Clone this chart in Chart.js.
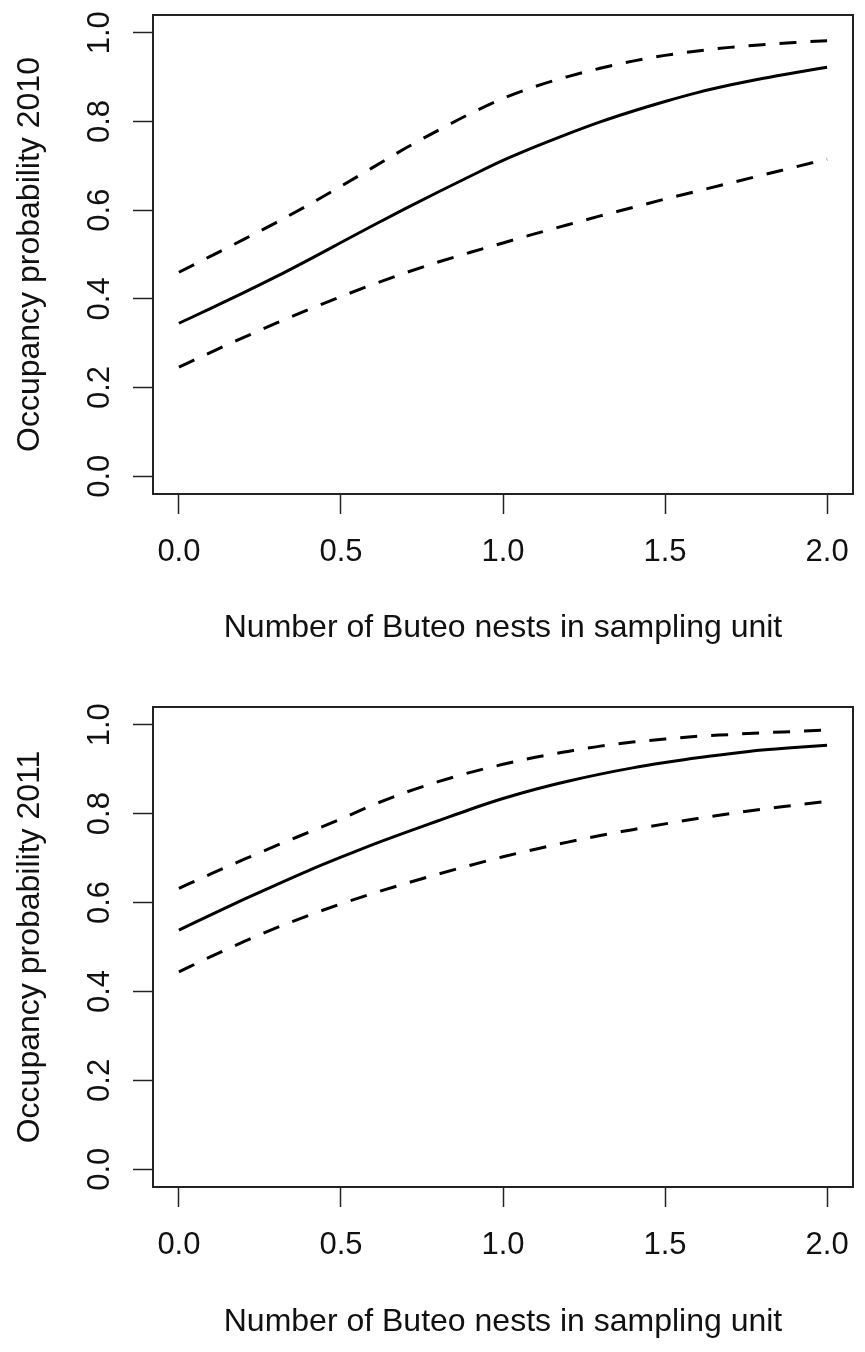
<!DOCTYPE html>
<html>
<head>
<meta charset="utf-8">
<script src="https://cdn.jsdelivr.net/npm/chart.js@4.4.1/dist/chart.umd.min.js"></script>
<style>
html, body { margin: 0; padding: 0; background: #fff; }
#wrap { position: relative; width: 865px; height: 1352px; }
canvas { position: absolute; left: 0; }
</style>
</head>
<body>
<div id="wrap">
  <canvas id="c2010" width="865" height="692" style="top:0px"></canvas>
  <canvas id="c2011" width="865" height="660" style="top:692px"></canvas>
</div>
<script>
// number of Buteo nests (x values shared by both panels)
const nests = [0, 0.1, 0.2, 0.3, 0.4, 0.5, 0.6, 0.7, 0.8, 0.9, 1.0,
               1.1, 1.2, 1.3, 1.4, 1.5, 1.6, 1.7, 1.8, 1.9, 2.0];

// 2010: fitted occupancy and its upper / lower bounds
const fit2010   = [0.345, 0.379, 0.414, 0.450, 0.488, 0.527, 0.566, 0.604, 0.641, 0.677, 0.712,
                   0.743, 0.772, 0.799, 0.823, 0.845, 0.865, 0.882, 0.897, 0.910, 0.922];
const upper2010 = [0.460, 0.497, 0.534, 0.572, 0.612, 0.654, 0.697, 0.740, 0.780, 0.818, 0.852,
                   0.879, 0.901, 0.920, 0.936, 0.949, 0.959, 0.967, 0.973, 0.978, 0.982];
const lower2010 = [0.246, 0.280, 0.313, 0.345, 0.376, 0.405, 0.433, 0.459, 0.483, 0.505, 0.526,
                   0.547, 0.567, 0.587, 0.606, 0.625, 0.643, 0.661, 0.679, 0.697, 0.715];

// 2011
const fit2011   = [0.538, 0.573, 0.607, 0.640, 0.672, 0.702, 0.731, 0.758, 0.784, 0.810, 0.834,
                   0.855, 0.873, 0.889, 0.903, 0.915, 0.926, 0.935, 0.943, 0.949, 0.954];
const upper2011 = [0.632, 0.665, 0.697, 0.728, 0.758, 0.788, 0.820, 0.848, 0.872, 0.893, 0.911,
                   0.927, 0.940, 0.952, 0.961, 0.968, 0.974, 0.978, 0.982, 0.985, 0.988];
const lower2011 = [0.444, 0.479, 0.512, 0.543, 0.571, 0.597, 0.621, 0.643, 0.664, 0.684, 0.703,
                   0.720, 0.736, 0.751, 0.764, 0.777, 0.789, 0.800, 0.810, 0.819, 0.828];

const xTicks = [0, 0.5, 1.0, 1.5, 2.0];
const yTicks = [0, 0.2, 0.4, 0.6, 0.8, 1.0];
const xTitle = 'Number of Buteo nests in sampling unit';

const fontFamily = '"Liberation Sans", Arial, sans-serif';
const ink = '#111';

// R-style closed box round the plot region
const boxPlugin = {
  id: 'rbox',
  afterDatasetsDraw(chart) {
    const a = chart.chartArea;
    const ctx = chart.ctx;
    ctx.save();
    ctx.strokeStyle = '#222';
    ctx.lineWidth = 2;
    ctx.strokeRect(a.left, a.top, a.right - a.left, a.bottom - a.top);
    ctx.restore();
  }
};

function series(ys, dashed) {
  return {
    data: nests.map((x, i) => ({ x: x, y: ys[i] })),
    borderColor: '#000',
    borderWidth: 3,
    borderDash: dashed ? [17, 14] : [],
    pointRadius: 0,
    fill: false,
    cubicInterpolationMode: 'monotone'
  };
}

function makePanel(id, yTitle, fit, upper, lower, axisHeight, xTitlePad) {
  return new Chart(document.getElementById(id), {
    type: 'line',
    data: { datasets: [series(fit, false), series(upper, true), series(lower, true)] },
    plugins: [boxPlugin],
    options: {
      responsive: false,
      animation: false,
      devicePixelRatio: 1,
      layout: { padding: { top: 15, right: 12, left: 0, bottom: 0 } },
      plugins: { legend: { display: false }, tooltip: { enabled: false } },
      scales: {
        x: {
          type: 'linear',
          min: -0.08,
          max: 2.08,
          afterBuildTicks: s => { s.ticks = xTicks.map(v => ({ value: v })); },
          afterFit: s => { s.height = axisHeight; s.paddingLeft = 0; s.paddingRight = 0; },
          grid: { drawOnChartArea: false, drawTicks: true, tickLength: 20, tickWidth: 1.5, tickColor: '#222' },
          border: { display: false },
          ticks: {
            color: ink, padding: 20, maxRotation: 0, autoSkip: false,
            font: { family: fontFamily, size: 31 },
            callback: v => v.toFixed(1)
          },
          title: {
            display: true, text: xTitle, color: ink,
            font: { family: fontFamily, size: 32 },
            padding: { top: 0, bottom: xTitlePad }
          }
        },
        y: {
          type: 'linear',
          min: -0.04,
          max: 1.04,
          afterBuildTicks: s => { s.ticks = yTicks.map(v => ({ value: v })); },
          afterFit: s => { s.width = 153; s.paddingTop = 0; s.paddingBottom = 0; },
          grid: { drawOnChartArea: false, drawTicks: true, tickLength: 20, tickWidth: 1.5, tickColor: '#222' },
          border: { display: false },
          ticks: {
            color: ink, padding: 11, minRotation: 90, maxRotation: 90, autoSkip: false,
            crossAlign: 'center',
            font: { family: fontFamily, size: 31 },
            callback: v => v.toFixed(1)
          },
          title: {
            display: true, text: yTitle, color: ink,
            font: { family: fontFamily, size: 32 },
            padding: { top: 11, bottom: 0 }
          }
        }
      }
    }
  });
}

makePanel('c2010', 'Occupancy probability 2010', fit2010, upper2010, lower2010, 198, 45);
makePanel('c2011', 'Occupancy probability 2011', fit2011, upper2011, lower2011, 165, 11);
</script>
</body>
</html>
